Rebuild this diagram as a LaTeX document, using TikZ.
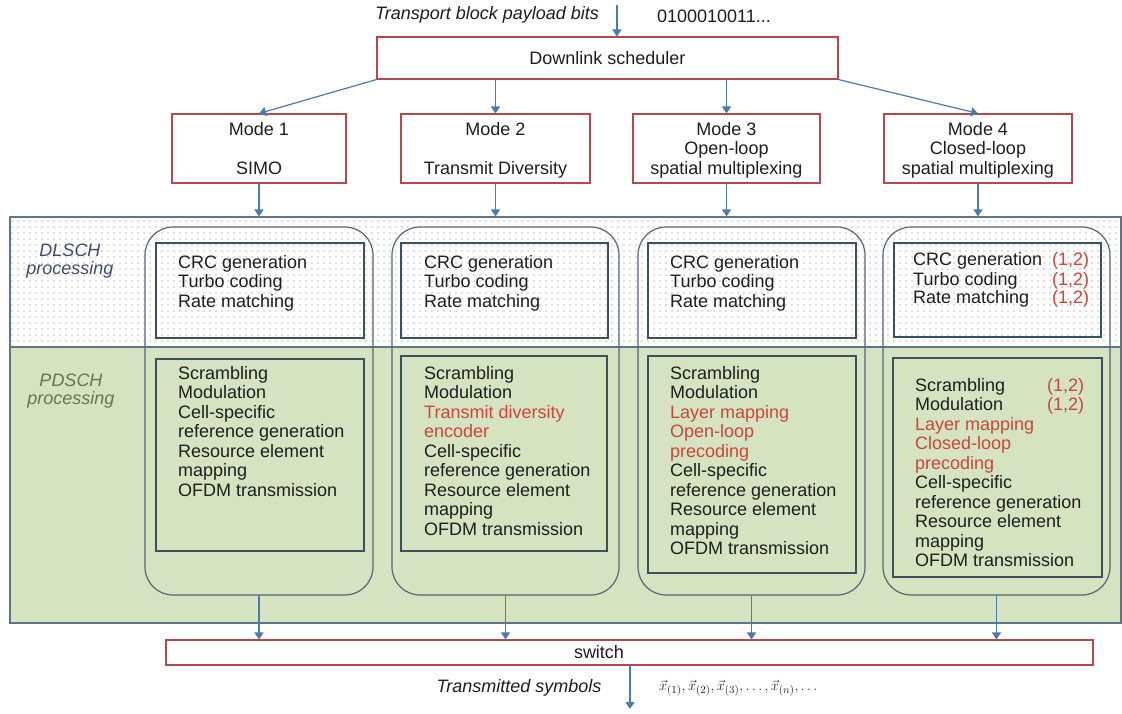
\documentclass[tikz,border=0pt]{standalone}
\usepackage{fontspec}
\setmainfont{Liberation Sans}
\usetikzlibrary{arrows.meta,fit,patterns.meta}
\definecolor{boxred}{RGB}{181,71,79}
\definecolor{arrowblue}{RGB}{74,123,171}
\definecolor{bggreen}{RGB}{214,227,193}
\definecolor{rframe}{RGB}{86,101,122}
\definecolor{iframe}{RGB}{61,80,96}
\definecolor{bgframe}{RGB}{95,117,133}
\definecolor{txt}{RGB}{30,30,30}
\definecolor{redtxt}{RGB}{200,70,60}
\definecolor{dlblue}{RGB}{64,74,106}
\definecolor{pdgreen}{RGB}{96,120,74}
\newcommand{\fsz}{\fontsize{18}{19.5}\selectfont}
\newcommand{\fszb}{\fontsize{18}{18.5}\selectfont}
\newcommand{\rt}[1]{\textcolor{redtxt}{#1}}
\begin{document}
\begin{tikzpicture}[x=1pt,y=-1pt,
  redbox/.style={draw=boxred, line width=1.1pt, inner sep=0pt},
  rbox/.style={draw=rframe, line width=1.2pt, rounded corners=28pt, inner sep=0pt},
  ibox/.style={draw=iframe, line width=1.1pt, inner sep=0pt},
  arr/.style={draw=arrowblue, line width=1.2pt, -{Triangle[width=9pt,length=7pt]}},
  blk/.style={anchor=north west, inner sep=0pt, align=left, font=\fsz, text=txt},
  mtxt/.style={anchor=north, inner sep=0pt, align=center, font=\fsz, text=txt},
  lbl/.style={inner sep=0pt, font=\fszb\itshape, align=center, text=txt}]
\useasboundingbox[fill=white] (0,0) rectangle (1122,713);

% background bands
\fill[white] (10,217) rectangle (1121,347);
\fill[pattern={Dots[distance=6pt,radius=0.7pt]}, pattern color=black!55] (10,217) rectangle (1121,347);
\fill[bggreen] (10,347) rectangle (1121,623);
\node[draw=bgframe, line width=1.2pt, inner sep=0pt, fit={(10,217) (1121,623)}] (bg) {};
\draw[draw=bgframe, line width=1.1pt] (bg.west |- 0,347) -- (bg.east |- 0,347);

% top
\node[lbl] (tlabel) at (487,15) {Transport block payload bits};
\node[inner sep=0pt, font=\fszb, text=txt] (bits) at (714,16) {0100010011...};
\node[redbox, fit={(377,37) (838,79)}] (sched) {};
\node[font=\fsz, text=txt, inner sep=0pt] (schedt) at (sched.center) {Downlink scheduler};
\coordinate (ta) at (617,5);
\draw[arr] (ta) -- (ta |- sched.north);

% modes
\node[redbox, fit={(172,114) (346,183)}] (m1) {};
\node[redbox, fit={(401,114) (590,183)}] (m2) {};
\node[redbox, fit={(633,114) (820,183)}] (m3) {};
\node[redbox, fit={(884,114) (1072,183)}] (m4) {};
\node[mtxt] (m1t) at (m1.center |- 0,121.4) {\strut Mode 1\\ \\SIMO};
\node[mtxt] (m2t) at (m2.center |- 0,121.4) {\strut Mode 2\\ \\Transmit Diversity};
\node[mtxt] (m3t) at (m3.center |- 0,121.4) {\strut Mode 3\\Open-loop\\spatial multiplexing};
\node[mtxt] (m4t) at (m4.center |- 0,121.4) {\strut Mode 4\\Closed-loop\\spatial multiplexing};

\draw[arr] (sched.south west) -- (m1.north);
\draw[arr] (m2.north |- sched.south) -- (m2.north);
\draw[arr] (m3.north |- sched.south) -- (m3.north);
\draw[arr] (sched.south east) -- (m4.north);

\draw[arr] (m1.south) -- (m1.south |- bg.north);
\draw[arr] (m2.south) -- (m2.south |- bg.north);
\draw[arr] (m3.south) -- (m3.south |- bg.north);
\draw[arr] (m4.south) -- (m4.south |- bg.north);

% side labels
\node[lbl, text=dlblue] (dll) at (70,261) {DLSCH\\processing};
\node[lbl, text=pdgreen] (pdl) at (71,391) {PDSCH\\processing};

% rounded boxes
\node[rbox, fit={(145,227) (373,595)}] (r1) {};
\node[rbox, fit={(392,227) (619,595)}] (r2) {};
\node[rbox, fit={(638,227) (865,595)}] (r3) {};
\node[rbox, fit={(883,227) (1110,595)}] (r4) {};

% inner boxes
\node[ibox, fit={(156,243) (364,338)}] (d1) {};
\node[ibox, fit={(401,243) (608,338)}] (d2) {};
\node[ibox, fit={(648,243) (856,338)}] (d3) {};
\node[ibox, fit={(894,243) (1101,337)}] (d4) {};
\node[ibox, fit={(156,359) (364,551)}] (p1) {};
\node[ibox, fit={(401,356) (607,551)}] (p2) {};
\node[ibox, fit={(648,356) (856,573)}] (p3) {};
\node[ibox, fit={(893,358) (1102,577)}] (p4) {};

% DL texts
\node[blk] (d1t) at (178,254.4) {\strut CRC generation\\Turbo coding\\Rate matching};
\node[blk] (d2t) at (424,254.4) {\strut CRC generation\\Turbo coding\\Rate matching};
\node[blk] (d3t) at (670,254.4) {\strut CRC generation\\Turbo coding\\Rate matching};
\node[blk, font=\fszb] (d4t) at (913,252.4) {\strut CRC generation\\Turbo coding\\Rate matching};
\node[blk, font=\fszb, text=redtxt] (d4r) at (1052,252.4) {\strut (1,2)\\(1,2)\\(1,2)};

% PD texts
\node[blk] (p1t) at (178,365.4) {\strut Scrambling\\Modulation\\Cell-specific\\reference generation\\Resource element\\mapping\\OFDM transmission};
\node[blk] (p2t) at (424,365.4) {\strut Scrambling\\Modulation\\\rt{Transmit diversity}\\\rt{encoder}\\Cell-specific\\reference generation\\Resource element\\mapping\\OFDM transmission};
\node[blk] (p3t) at (670,365.4) {\strut Scrambling\\Modulation\\\rt{Layer mapping}\\\rt{Open-loop}\\\rt{precoding}\\Cell-specific\\reference generation\\Resource element\\mapping\\OFDM transmission};
\node[blk] (p4t) at (915,377.4) {\strut Scrambling\\Modulation\\\rt{Layer mapping}\\\rt{Closed-loop}\\\rt{precoding}\\Cell-specific\\reference generation\\Resource element\\mapping\\OFDM transmission};
\node[blk, text=redtxt] (p4r) at (1047,377.4) {\strut (1,2)\\(1,2)};

% switch
\node[redbox, fit={(166,640) (1093,665)}] (sw) {};
\node[font=\fsz, text=txt, inner sep=0pt] (swt) at (599,652.5) {switch};
\draw[arr] (r1.south) -- (r1.south |- sw.north);
\draw[arr] (r2.south) -- (r2.south |- sw.north);
\draw[arr] (r3.south) -- (r3.south |- sw.north);
\draw[arr] (r4.south) -- (r4.south |- sw.north);

\coordinate (oa) at (630,709);
\draw[arr] (sw.south -| oa) -- (oa);
\node[lbl] (tsym) at (519,688) {Transmitted symbols};
\node[anchor=west, inner sep=0pt, font=\fontsize{15}{17}\selectfont, text=txt] (syms) at (659,688)
  {$\vec{x}_{(1)}, \vec{x}_{(2)}, \vec{x}_{(3)}, \ldots, \vec{x}_{(n)}, \ldots$};
\end{tikzpicture}
\end{document}
